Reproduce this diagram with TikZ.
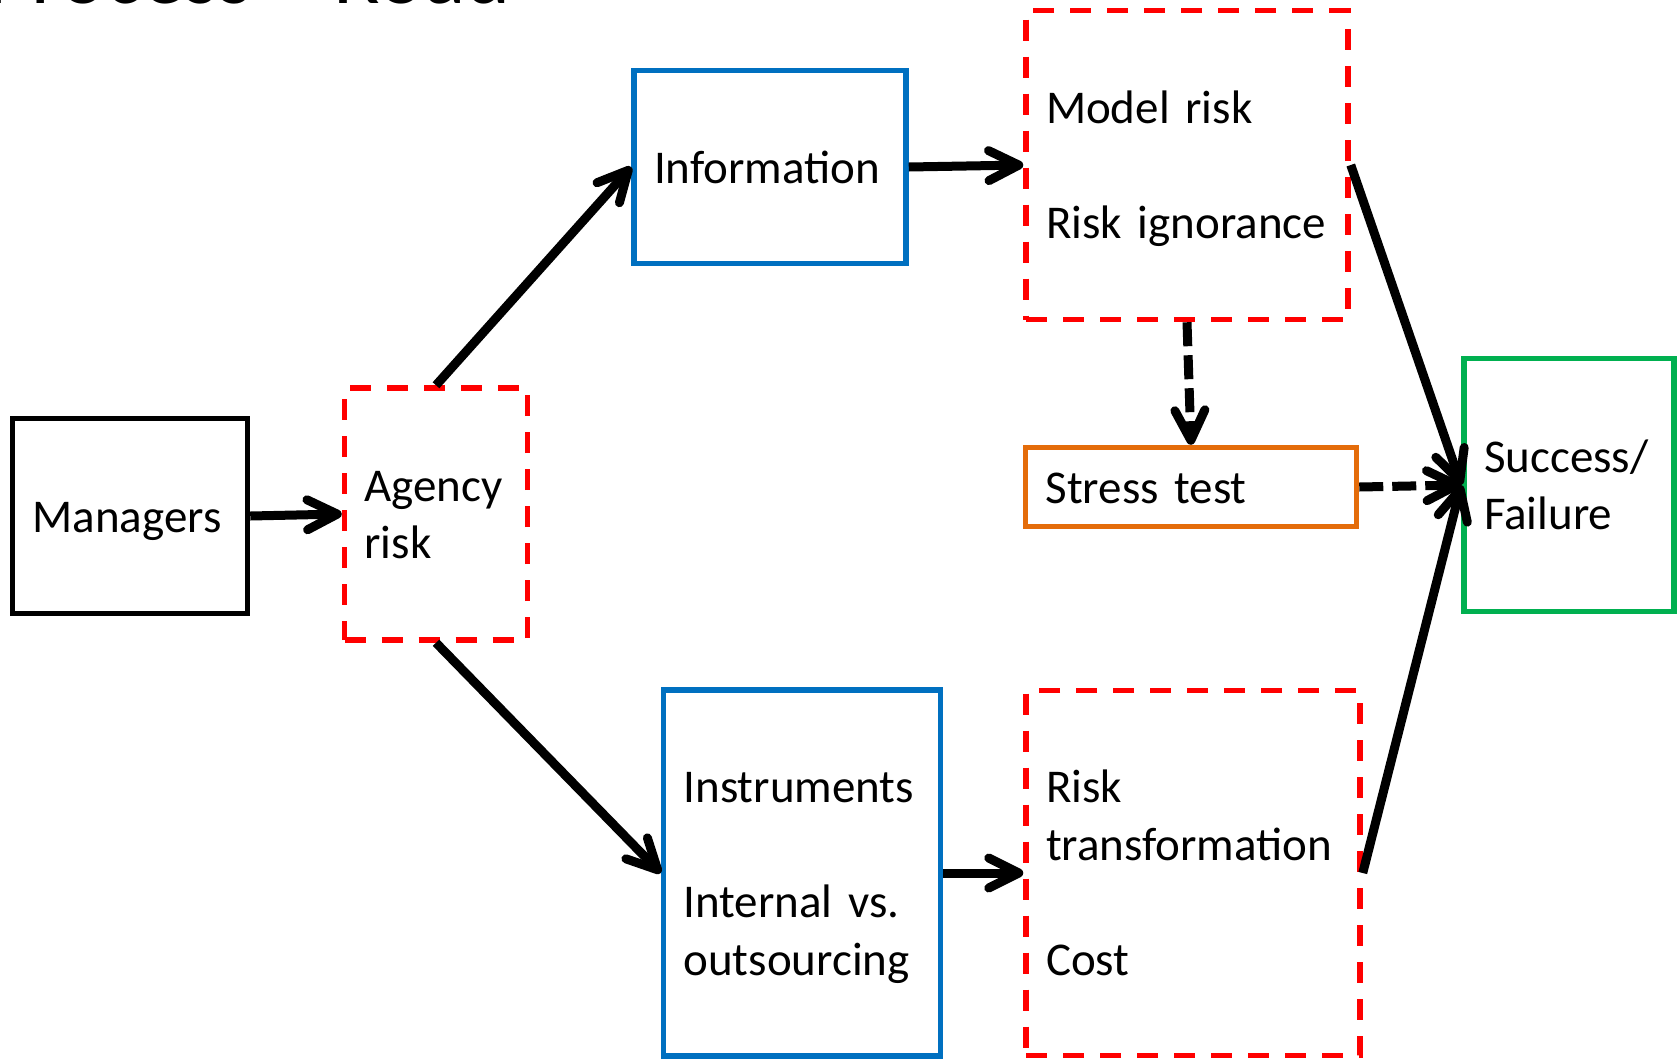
\documentclass[tikz,border=0pt]{standalone}
\usepackage{fontspec}
\setmainfont{Carlito}
\usetikzlibrary{positioning,arrows.meta}

\definecolor{boxblue}{RGB}{0,112,192}
\definecolor{boxorange}{RGB}{228,108,10}
\definecolor{boxgreen}{RGB}{0,176,80}

% fixed line box, so that all boxes centre their text alike
\newcommand{\linestrut}{\rule[-10pt]{0pt}{52pt}}

\begin{document}
\begin{tikzpicture}[x=1pt,y=-1pt,
  every node/.style={font=\fontsize{47pt}{57.8pt}\selectfont},
  frame/.style={draw, line width=5.5pt, align=left, inner xsep=20pt, inner ysep=0pt,
    execute at begin node=\linestrut, execute at end node=\linestrut},
  riskframe/.style={frame, draw=red, dash pattern=on 21pt off 16pt},
  link/.style={line width=9pt, -{Straight Barb[length=30pt,width=30pt,round]}},
  dlink/.style={link, dash pattern=on 24pt off 9pt}]
  \useasboundingbox (0,0) rectangle (1678,1058);
  % slide title, cut off at the top edge
  \node[anchor=base west, inner sep=0pt, font=\fontsize{86pt}{100pt}\selectfont] (title) at (-13,3) {Process – Road};
  % boxes
  \node[frame, minimum width=235pt, minimum height=195pt, text width=195pt] (managers) at (130,516) {Managers};
  \node[riskframe, minimum width=183pt, minimum height=252pt, text width=143pt] (agency) at (436,514) {Agency\\risk};
  \node[frame, draw=boxblue, minimum width=272pt, minimum height=193pt, text width=232pt] (info) at (770,167) {Information};
  \node[riskframe, minimum width=322pt, minimum height=309pt, text width=282pt] (model) at (1187,165)
    {Model risk\\[57.8pt]Risk ignorance};
  \node[frame, draw=boxorange, minimum width=331pt, minimum height=79pt, text width=291pt] (stress) at (1191,487) {Stress test};
  \node[frame, draw=boxgreen, minimum width=210pt, minimum height=253pt, text width=170pt] (outcome) at (1569,485) {Success/\\Failure};
  \node[frame, draw=boxblue, minimum width=277pt, minimum height=366pt, text width=237pt] (instr) at (802,873)
    {Instruments\\[57.8pt]Internal vs.\\outsourcing};
  \node[riskframe, minimum width=334pt, minimum height=365pt, text width=294pt] (transf) at (1193,873)
    {Risk\\transformation\\[57.8pt]Cost};
  % arrows
  \draw[link] (managers.east) -- (agency.west);
  \draw[link] (agency.north) -- (info.west);
  \draw[link] (agency.south) -- (instr.west);
  \draw[link] (info.east) -- (model.west);
  \draw[link] (instr.east) -- (transf.west);
  \draw[dlink] (model.south) -- (stress.north);
  \draw[link] (model.east) -- (outcome.west);
  \draw[dlink] (stress.east) -- (outcome.west);
  \draw[link] (transf.east) -- (outcome.west);
\end{tikzpicture}
\end{document}
